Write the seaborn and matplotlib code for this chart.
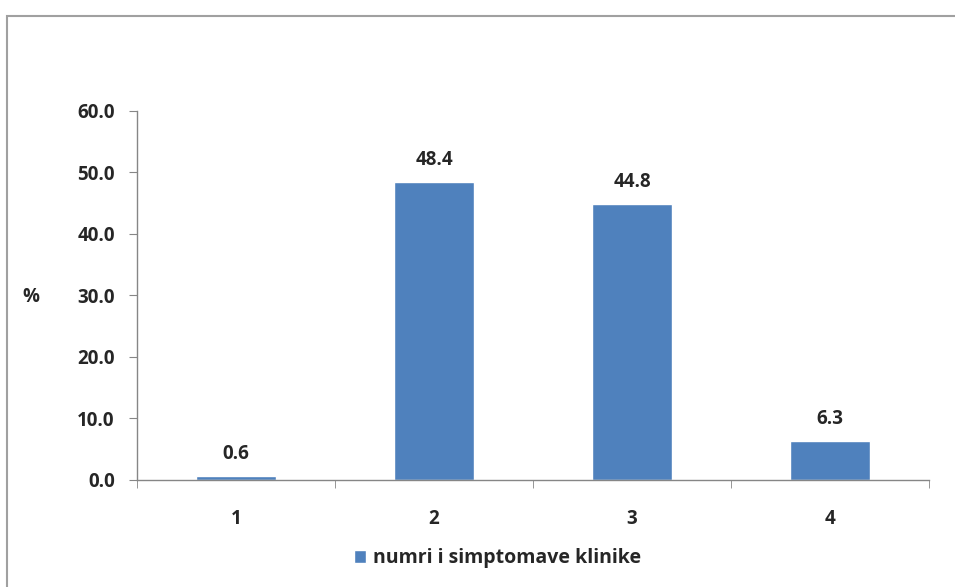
import matplotlib
matplotlib.use("Agg")
import matplotlib.pyplot as plt
from matplotlib.patches import Rectangle
from matplotlib.ticker import FixedLocator, FormatStrFormatter
import seaborn as sns
import pandas as pd

categories = ["1", "2", "3", "4"]
values = [0.6, 48.4, 44.8, 6.3]
series_name = "numri i simptomave klinike"
y_ticks = [0, 10, 20, 30, 40, 50, 60]

sns.set_style("white")
plt.rcParams["font.family"] = ["Open Sans", "DejaVu Sans"]

FS = 13.5
WEIGHT = "bold"

df = pd.DataFrame({"cat": categories, "val": values})

fig = plt.figure(figsize=(9.55, 5.87), dpi=100)
ax = fig.add_axes([0.1435, 0.1823, 0.8295, 0.6287])

bar_color = "#4F81BD"
sns.barplot(data=df, x="cat", y="val", color=bar_color, width=0.405,
            saturation=1, ax=ax, label=series_name)

ax.set_xlim(-0.5, 3.5)
ax.set_ylim(0, 60)
ax.set_yticks(y_ticks)
ax.yaxis.set_major_formatter(FormatStrFormatter("%.1f"))
ax.set_xlabel("")
ax.set_ylabel("")
fig.text(31 / 955, 1 - 297 / 587, "%", ha="center", va="center",
         fontsize=FS, fontweight=WEIGHT)

for s in ["top", "right"]:
    ax.spines[s].set_visible(False)
for s in ["left", "bottom"]:
    ax.spines[s].set_color("#868686")
    ax.spines[s].set_linewidth(1.0)

ax.tick_params(axis="y", which="major", length=6, color="#868686",
               direction="out", labelsize=FS, pad=10, left=True)
ax.tick_params(axis="x", which="major", length=0, labelsize=FS, pad=21)
ax.xaxis.set_minor_locator(FixedLocator([-0.5, 0.5, 1.5, 2.5, 3.5]))
ax.tick_params(axis="x", which="minor", length=6, color="#868686",
               direction="out", bottom=True)
for lab in ax.get_xticklabels() + ax.get_yticklabels():
    lab.set_fontweight(WEIGHT)

for i, v in enumerate(values):
    ax.annotate(f"{v:.1f}", xy=(i, v), xytext=(0, 9), textcoords="offset points",
                ha="center", va="bottom", fontsize=FS, fontweight=WEIGHT)

leg = ax.legend(loc="upper center", bbox_to_anchor=(0.455, -0.137), frameon=False,
                fontsize=FS + 0.5, handlelength=0.65, handleheight=0.65,
                handletextpad=0.35)
for t in leg.get_texts():
    t.set_fontweight(WEIGHT)

# chart-area border
fig.patches.append(Rectangle((7 / 955, -0.1), 1.2, 1 - 16 / 587 + 0.1,
                             transform=fig.transFigure, fill=False,
                             edgecolor="#A0A0A0", linewidth=1.5))

fig.savefig("out.png", dpi=100)
